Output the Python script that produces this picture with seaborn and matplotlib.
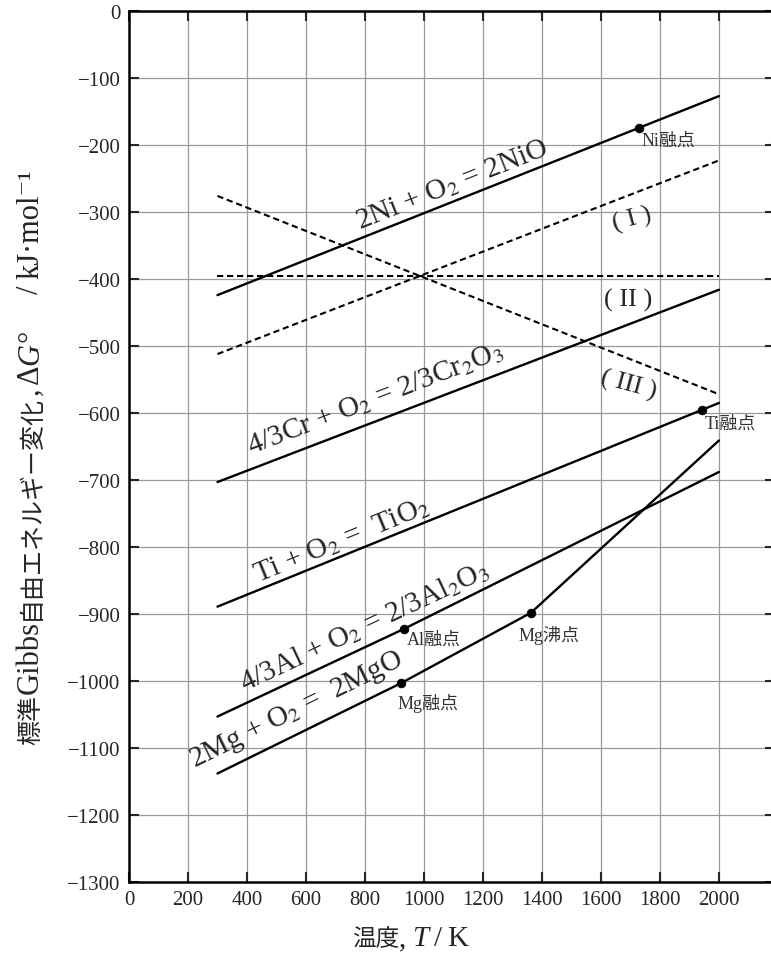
import numpy as np
import pandas as pd
import matplotlib
matplotlib.use("Agg")
import matplotlib.pyplot as plt
from matplotlib.transforms import IdentityTransform
import seaborn as sns

# temperature (K) and standard Gibbs energy (kJ/mol)
t_ends = [300, 2000]
ni_g = [-424, -127]
cr_g = [-703, -416]
ti_g = [-889, -585]
al_t = [300, 933, 2000]
al_g = [-1053, -922, -688]
mg_t = [300, 923, 1363, 2000]
mg_g = [-1138, -1003, -898, -641]
dash1_g = [-512, -223]
dash2_g = [-395, -395]
dash3_g = [-276, -572]

# melting / boiling points
pt_names = ["Ni融点", "Ti融点", "Al融点", "Mg融点", "Mg沸点"]
pt_t = [1728, 1941, 933, 923, 1363]
pt_g = [-175, -596, -922, -1003, -898]

eq_labels = ["2Ni + O$_2$ = 2NiO",
             "4/3Cr + O$_2$ = 2/3Cr$_2$O$_3$",
             "Ti + O$_2$ =  TiO$_2$",
             "4/3Al + O$_2$ = 2/3Al$_2$O$_3$",
             "2Mg + O$_2$ =  2MgO"]
roman_labels = ["( I )", "( II )", "( III )"]

sns.set_style("ticks")
plt.rcParams["font.family"] = ["Liberation Serif", "Noto Sans CJK JP", "DejaVu Serif"]
plt.rcParams["mathtext.fontset"] = "stix"

fig = plt.figure(figsize=(7.71, 9.62), dpi=100)
ax = fig.add_axes([0.1673, 0.0821, 0.8379, 0.9054])
ax.set_xlim(0, 2190)
ax.set_ylim(-1300, 0)
ax.set_xticks(np.arange(0, 2001, 200))
ax.set_yticks(np.arange(-1300, 1, 100))
ax.grid(True, color="#9a9a9a", lw=0.9)
ax.set_axisbelow(True)

solid = dict(color="black", lw=1.7)
sns.lineplot(x=t_ends, y=ni_g, ax=ax, **solid)
sns.lineplot(x=t_ends, y=cr_g, ax=ax, **solid)
sns.lineplot(x=t_ends, y=ti_g, ax=ax, **solid)
sns.lineplot(x=al_t, y=al_g, ax=ax, **solid)
sns.lineplot(x=mg_t, y=mg_g, ax=ax, **solid)

dashed = dict(color="black", lw=1.5, linestyle=(0, (3, 1.8)))
for g in (dash1_g, dash2_g, dash3_g):
    sns.lineplot(x=t_ends, y=g, ax=ax, **dashed)

sns.scatterplot(x=pt_t, y=pt_g, ax=ax, color="black", s=40,
                edgecolor="black", zorder=5)

offsets = [(3, -12), (3, -13), (3, -10), (-4, -19), (-13, -22)]
for name, t, g, off in zip(pt_names, pt_t, pt_g, offsets):
    ax.annotate(name, (t, g), xytext=off, textcoords="offset pixels",
                ha="left", va="center", fontsize=13, color="#333333")


def screen_angle(t, g):
    p = ax.transData.transform(np.column_stack([t[:2], g[:2]]))
    return np.degrees(np.arctan2(p[1, 1] - p[0, 1], p[1, 0] - p[0, 0]))


eq_pos = [(1095, -258), (834, -578), (722, -788), (797, -918), (568, -1042)]
eq_lines = [(t_ends, ni_g), (t_ends, cr_g), (t_ends, ti_g),
            (al_t, al_g), (mg_t, mg_g)]
for lab, (x, y), (lt, lg) in zip(eq_labels, eq_pos, eq_lines):
    ax.text(x, y, lab, fontsize=21, ha="center", va="center",
            rotation=screen_angle(lt, lg), rotation_mode="anchor")

roman_pos = [(1704, -310), (1692, -430), (1692, -557)]
roman_rot = [15, 0, -15]
for lab, (x, y), r in zip(roman_labels, roman_pos, roman_rot):
    ax.text(x, y, lab, fontsize=19, ha="center", va="center",
            rotation=r, rotation_mode="anchor")

ax.tick_params(direction="in", length=7, width=1.5, top=True, right=True,
               labelsize=15, pad=6)
for s in ax.spines.values():
    s.set_linewidth(1.8)
    s.set_color("black")

# axis titles: CJK and latin parts at different sizes, laid end to end
fig.canvas.draw()
renderer = fig.canvas.get_renderer()


def place_pieces(pieces, x, y, vertical):
    for txt, size, style, gap in pieces:
        if vertical:
            y += gap
        else:
            x += gap
        t = fig.text(x, y, txt, fontsize=size, fontstyle=style,
                     transform=IdentityTransform(), rotation=90 if vertical else 0,
                     rotation_mode="anchor", ha="left", va="baseline")
        bb = t.get_window_extent(renderer)
        if vertical:
            y = bb.y1
        else:
            x = bb.x1


ylab = [("標準", 18, "normal", 0), ("Gibbs", 22, "normal", 1),
        ("自由エネルギー変化", 18, "normal", 1), (",", 22, "normal", 0),
        ("Δ", 22, "normal", 3), ("G", 22, "italic", 0), ("°", 22, "normal", 1),
        ("/", 22, "normal", 36), ("kJ·mol⁻¹", 22, "normal", 6)]
place_pieces(ylab, 38, 962 - 745, True)

xlab = [("温度", 17, "normal", 0), (",", 21, "normal", 0),
        ("T", 21, "italic", 6), ("/", 21, "normal", 5), ("K", 21, "normal", 5)]
place_pieces(xlab, 352, 962 - 946, False)

fig.savefig("out.png", dpi=100)
